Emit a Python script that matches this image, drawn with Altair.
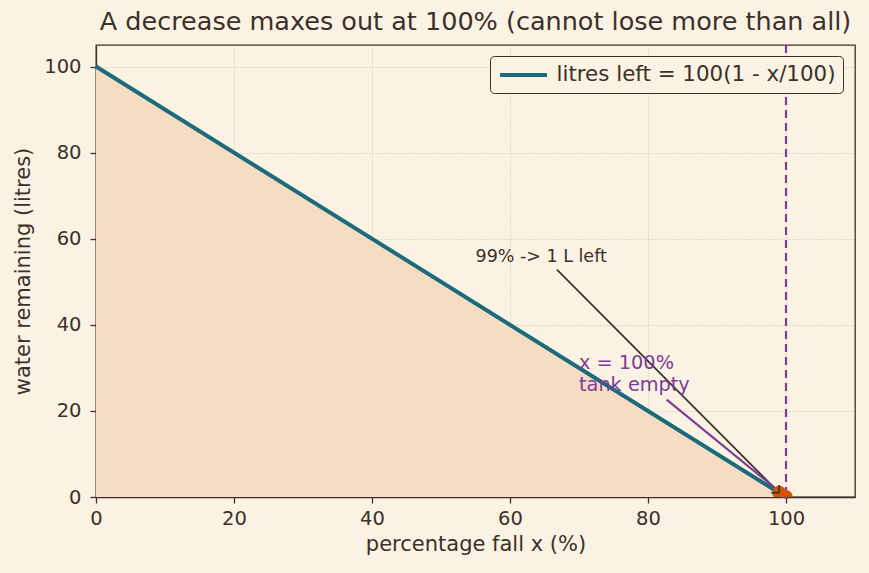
import altair as alt
import pandas as pd

# Water left in a 100 L tank as the percentage fall grows
fall_pct = [0, 100]
litres_left = [100, 0]

# Highlighted points: 99% fall and 100% fall
mark_x = [99, 100]
mark_y = [1, 0]

# Annotation text anchors and arrows (tail -> head)
note_text = ["99% -> 1 L left"]
note_x = [55]
note_y = [54.7]
arrow_black = {"x": [66.8], "y": [52.8], "x2": [99], "y2": [1]}

empty_lines = ["x = 100%", "tank empty"]
empty_x = [70, 70]
empty_y = [29.8, 24.7]
arrow_purple = {"x": [82.7], "y": [22.6], "x2": [100], "y2": [0]}

BG = "#faf2e3"
INK = "#3b3129"
TEAL = "#1b6b7b"
PURPLE = "#7d3c98"
ORANGE = "#d35400"
FILL = "#f5dcc3"
FONT = "DejaVu Sans"

xs = alt.Scale(domain=[0, 110], nice=False, zero=False)
ys = alt.Scale(domain=[0, 105], nice=False, zero=False)

line_df = pd.DataFrame({"x": fall_pct, "y": litres_left,
                        "series": ["litres left = 100(1 - x/100)"] * len(fall_pct)})

grid_opts = dict(grid=True, gridDash=[1, 2], gridColor="#c9b99c", gridWidth=0.8,
                 labelFlush=False)
x_axis = alt.Axis(values=[0, 20, 40, 60, 80, 100], title="percentage fall x (%)", **grid_opts)
y_axis = alt.Axis(values=[0, 20, 40, 60, 80, 100], title="water remaining (litres)", **grid_opts)

area = alt.Chart(line_df).mark_area(color=FILL, opacity=1).encode(
    x=alt.X("x:Q", scale=xs, axis=x_axis),
    y=alt.Y("y:Q", scale=ys, axis=y_axis),
)

# legend swatch: a long horizontal stroke on a small symbol box
legend = alt.Legend(
    title=None, orient="none", legendX=394, legendY=11,
    symbolType="M -2.35 0 L 2.35 0", symbolSize=400, symbolStrokeWidth=4,
    symbolOffset=14.5, labelOffset=21,
    labelFontSize=21.4, labelColor=INK, labelLimit=0, labelFont=FONT,
    strokeColor=INK, fillColor=BG, padding=7, cornerRadius=4,
)

line = alt.Chart(line_df).mark_line(strokeWidth=4).encode(
    x=alt.X("x:Q", scale=xs),
    y=alt.Y("y:Q", scale=ys),
    color=alt.Color("series:N", scale=alt.Scale(range=[TEAL]), legend=legend),
)

vline = alt.Chart(pd.DataFrame({"x": [100]})).mark_rule(
    color=PURPLE, strokeWidth=2.2, strokeDash=[8, 5]).encode(x=alt.X("x:Q", scale=xs))

dots = alt.Chart(pd.DataFrame({"x": mark_x, "y": mark_y})).mark_circle(
    color=ORANGE, opacity=1, size=190, clip=True).encode(
    x=alt.X("x:Q", scale=xs), y=alt.Y("y:Q", scale=ys))

black_df = pd.DataFrame(arrow_black)
black_shaft = alt.Chart(black_df).mark_rule(color=INK, strokeWidth=1.7).encode(
    x=alt.X("x:Q", scale=xs), y=alt.Y("y:Q", scale=ys),
    x2="x2:Q", y2="y2:Q")
black_head = alt.Chart(black_df).mark_point(
    shape="M -1 1 L 0 0 L 1 1", filled=False, color=INK, strokeWidth=1.7,
    size=120, angle=135, opacity=1).encode(
    x=alt.X("x2:Q", scale=xs), y=alt.Y("y2:Q", scale=ys))

purple_df = pd.DataFrame(arrow_purple)
purple_shaft = alt.Chart(purple_df).mark_rule(color=PURPLE, strokeWidth=2.2).encode(
    x=alt.X("x:Q", scale=xs), y=alt.Y("y:Q", scale=ys),
    x2="x2:Q", y2="y2:Q")
purple_head = alt.Chart(purple_df).mark_point(
    shape="triangle-up", filled=True, color=PURPLE, size=50,
    angle=130, opacity=1).encode(
    x=alt.X("x2:Q", scale=xs), y=alt.Y("y2:Q", scale=ys))

note = alt.Chart(pd.DataFrame({"t": note_text, "x": note_x, "y": note_y})).mark_text(
    align="left", baseline="alphabetic", fontSize=17.5, color=INK, font=FONT).encode(
    x=alt.X("x:Q", scale=xs), y=alt.Y("y:Q", scale=ys), text="t:N")

empty_note = alt.Chart(pd.DataFrame({"t": empty_lines, "x": empty_x, "y": empty_y})).mark_text(
    align="left", baseline="alphabetic", fontSize=19.3, color=PURPLE, font=FONT).encode(
    x=alt.X("x:Q", scale=xs), y=alt.Y("y:Q", scale=ys), text="t:N")

chart = alt.layer(
    area, vline, line, black_shaft, purple_shaft, purple_head, dots, black_head,
    note, empty_note,
).properties(
    width=759, height=452,
    title=alt.TitleParams("A decrease maxes out at 100% (cannot lose more than all)",
                          fontSize=25.5, font=FONT, fontWeight="normal",
                          color=INK, anchor="middle", offset=8),
    background=BG,
    padding={"left": 96, "top": 45, "right": 14, "bottom": 76},
    autosize=alt.AutoSizeParams(type="none"),
).configure_view(
    stroke=INK, strokeWidth=1.3, fill=BG,
).configure_axis(
    domainColor=INK, tickColor=INK, domainWidth=1.3, tickWidth=1.3, tickSize=6,
    labelColor=INK, titleColor=INK, labelFontSize=19.5, titleFontSize=21,
    labelFont=FONT, titleFont=FONT, titleFontWeight="normal",
).configure_axisX(labelPadding=6, titlePadding=6).configure_axisY(labelPadding=9, titlePadding=10)

chart.save("out.html", embed_options={"renderer": "svg", "actions": False})
